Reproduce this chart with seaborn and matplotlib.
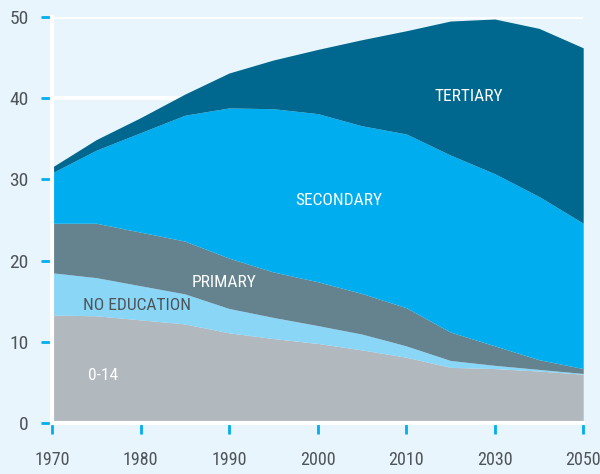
import numpy as np
import matplotlib
matplotlib.use('Agg')
import matplotlib.pyplot as plt
import seaborn as sns
from matplotlib import font_manager

# Data (millions)
years = [1970, 1975, 1980, 1985, 1990, 1995, 2000, 2005, 2010, 2020, 2030, 2040, 2050]
tick_years = [1970, 1980, 1990, 2000, 2010, 2030, 2050]
age_0_14 = [13.3, 13.2, 12.7, 12.2, 11.1, 10.4, 9.8, 9.0, 8.1, 6.85, 6.7, 6.4, 6.0]
no_education = [5.2, 4.7, 4.2, 3.7, 3.0, 2.6, 2.2, 1.95, 1.4, 0.85, 0.4, 0.2, 0.1]
primary = [6.1, 6.7, 6.6, 6.5, 6.2, 5.6, 5.4, 5.0, 4.7, 3.5, 2.4, 1.2, 0.6]
secondary = [6.2, 9.0, 12.25, 15.5, 18.5, 20.1, 20.7, 20.65, 21.4, 21.8, 21.2, 20.1, 17.9]
tertiary = [0.7, 1.3, 1.85, 2.6, 4.3, 6.0, 7.9, 10.6, 12.7, 16.5, 19.05, 20.7, 21.6]
layer_names = ['0-14', 'NO EDUCATION', 'PRIMARY', 'SECONDARY', 'TERTIARY']

colors = ['#b1b8be', '#8ad6f6', '#64838f', '#00adee', '#00688f']
bg = '#e8f5fc'
tick_blue = '#00aeef'
text_gray = '#4f5458'

sns.set_theme(style='white')

# pick a condensed font if one is around
installed = {f.name for f in font_manager.fontManager.ttflist}
font = 'DejaVu Sans'
for cand in ['Liberation Sans Narrow', 'Roboto Condensed', 'Open Sans Condensed', 'DejaVu Sans Condensed']:
    if cand in installed:
        font = cand
        break
plt.rcParams['font.family'] = [font, 'DejaVu Sans']

fig = plt.figure(figsize=(6, 4.74), dpi=100, facecolor=bg)
ax = fig.add_axes([0.0867, 0.1076, 0.8853, 0.8566])
ax.set_facecolor(bg)

# years are not evenly spaced after 2010, the chart spaces points equally
x = np.arange(len(years))
ax.stackplot(x, age_0_14, no_education, primary, secondary, tertiary,
             colors=colors, labels=layer_names, zorder=2, linewidth=0)

ax.set_xlim(x[0], x[-1])
ax.set_ylim(0, 50)
ax.set_yticks([0, 10, 20, 30, 40, 50])
tick_pos = [x[years.index(y)] for y in tick_years]
ax.set_xticks(tick_pos)
ax.set_xticklabels([str(y) for y in tick_years])

ax.yaxis.grid(True, color='white', linewidth=3, zorder=1)
ax.set_axisbelow(True)
for side in ['top', 'right']:
    ax.spines[side].set_visible(False)
for side in ['left', 'bottom']:
    ax.spines[side].set_color('white')
    ax.spines[side].set_linewidth(3)
    ax.spines[side].set_zorder(3)

ax.tick_params(axis='both', which='major', direction='out', length=8, width=2,
               color=tick_blue, labelcolor=text_gray, left=True, bottom=True)
ax.tick_params(axis='y', pad=9, labelsize=14)
ax.tick_params(axis='x', pad=12, labelsize=13)

# layer labels
lab = dict(fontsize=12.5, ha='center', va='center', zorder=5)
ax.text(9.41, 40.2, 'TERTIARY', color='white', **lab)
ax.text(6.48, 27.4, 'SECONDARY', color='white', **lab)
ax.text(3.88, 17.3, 'PRIMARY', color='white', **lab)
ax.text(1.92, 14.5, 'NO EDUCATION', color=text_gray, **lab)
ax.text(1.15, 5.9, '0-14', color='white', **lab)

fig.savefig('out.png', dpi=100, facecolor=bg)
